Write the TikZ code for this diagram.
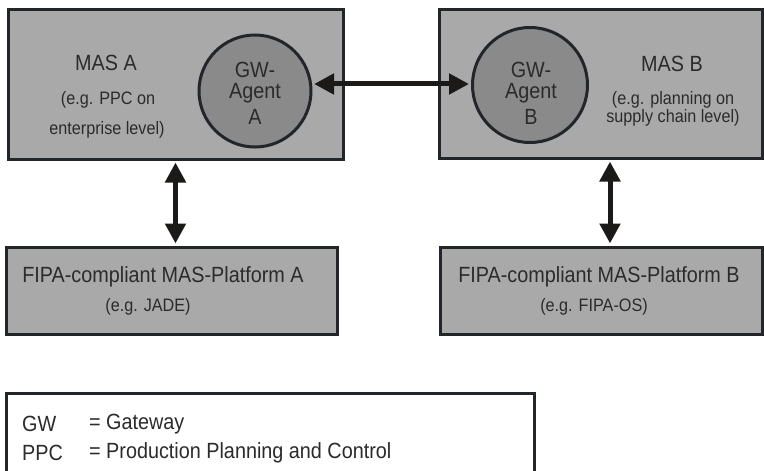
\documentclass[tikz,border=0pt]{standalone}
\usepackage{fontspec}
\setmainfont{Liberation Sans}[FakeStretch=0.9]
\usetikzlibrary{arrows.meta}

\definecolor{boxfill}{HTML}{A9A9A9}
\definecolor{agentfill}{HTML}{8A8A8A}
\definecolor{edge}{HTML}{22262A}
\definecolor{ink}{HTML}{2B2B2B}
\definecolor{arrowink}{HTML}{1C1A18}

\tikzset{
  masbox/.style={draw=edge, line width=3pt, fill=boxfill, inner sep=0pt},
  agent/.style={circle, draw=edge, line width=3pt, fill=agentfill, inner sep=0pt},
  legendbox/.style={draw=edge, line width=3pt, fill=white},
  big/.style={text=ink, inner sep=0pt, font=\fontsize{22}{24}\selectfont},
  small/.style={text=ink, inner sep=0pt, font=\fontsize{18}{20}\selectfont},
  biarrow/.style={draw=arrowink, line width=5pt,
    {Triangle[width=20pt,length=20pt]}-{Triangle[width=20pt,length=20pt]},
    shorten <=2pt, shorten >=2pt},
}

\begin{document}
\begin{tikzpicture}[x=1pt,y=-1pt]
  \useasboundingbox (0,0) rectangle (764,471);
  \clip (0,0) rectangle (764,471);

  % multi-agent systems with their gateway agents
  \node[masbox, minimum width=335pt, minimum height=150pt] (masA) at (175.5,84) {};
  \node[masbox, minimum width=323pt, minimum height=149pt] (masB) at (600.5,83.5) {};
  \node[agent, minimum size=112pt] (gwA) at (255,91) {};
  \node[agent, minimum size=115pt] (gwB) at (530,85) {};

  \node[big] (masAtitle) at (106,63) {MAS A};
  \node[small] (masAnote1) at (108,100) {(e.g. PPC on};
  \node[small] (masAnote2) at (107,130) {enterprise level)};
  \node[big] (gwAl1) at (255,70) {GW-};
  \node[big] (gwAl2) at (255,93) {Agent};
  \node[big] (gwAl3) at (255,117) {A};

  \node[big] (masBtitle) at (672,64) {MAS B};
  \node[small] (masBnote1) at (673,100) {(e.g. planning on};
  \node[small] (masBnote2) at (673,118) {supply chain level)};
  \node[big] (gwBl1) at (531,70) {GW-};
  \node[big] (gwBl2) at (531,93) {Agent};
  \node[big] (gwBl3) at (531,117) {B};

  % agent platforms
  \node[masbox, minimum width=331pt, minimum height=87pt] (platA) at (171.5,290.5) {};
  \node[masbox, minimum width=322pt, minimum height=87pt] (platB) at (601,290.5) {};
  \node[big] (platAtitle) at (163,277) {FIPA-compliant MAS-Platform A};
  \node[small] (platAnote) at (148,307) {(e.g. JADE)};
  \node[big] (platBtitle) at (599,277) {FIPA-compliant MAS-Platform B};
  \node[small] (platBnote) at (594,307) {(e.g. FIPA-OS)};

  % connections
  \draw[biarrow] (gwA.7) -- (gwB.west |- gwA.7);
  \draw[biarrow] (masA.south) -- (masA.south |- platA.north);
  \coordinate (masBdock) at ([xshift=9.5pt]masB.south);
  \draw[biarrow] (masBdock) -- (masBdock |- platB.north);

  % legend
  \node[legendbox, minimum width=528pt, minimum height=110pt, anchor=north west] (legend) at (5,392) {};
  \node[big, anchor=west] (keyGW) at (22,424) {GW};
  \node[big, anchor=west] (defGW) at (89,424) {= Gateway};
  \node[big, anchor=west] (keyPPC) at (22,453) {PPC};
  \node[big, anchor=west] (defPPC) at (89,453) {= Production Planning and Control};
\end{tikzpicture}
\end{document}
